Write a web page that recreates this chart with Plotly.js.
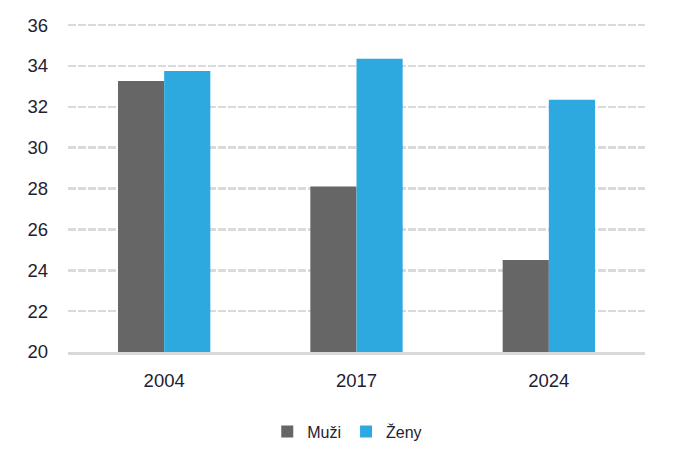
<!DOCTYPE html>
<html><head><meta charset="utf-8">
<script src="https://cdn.plot.ly/plotly-3.0.1.min.js"></script>
<style>body{margin:0;background:#fff}#c{width:675px;height:472px}</style>
</head><body><div id="c"></div>
<script>
const years = ['2004', '2017', '2024'];
const muzi = [33.26, 28.1, 24.5];
const zeny = [33.75, 34.35, 32.35];
const seriesNames = ['Muži', 'Ženy'];
const yTicks = [20, 22, 24, 26, 28, 30, 32, 34, 36];

const data = [
  {type: 'bar', x: years, y: muzi, name: seriesNames[0], marker: {color: '#666666'}},
  {type: 'bar', x: years, y: zeny, name: seriesNames[1], marker: {color: '#2EA9E0'}}
];
const layout = {
  width: 675, height: 472,
  margin: {l: 68, r: 30, t: 22, b: 120},
  paper_bgcolor: '#fff', plot_bgcolor: '#fff',
  font: {family: '"Liberation Sans", Arial, sans-serif', color: '#1e2230', size: 18},
  barmode: 'group', bargap: 0.52, bargroupgap: 0,
  xaxis: {type: 'category', showgrid: false, showline: true, linecolor: '#d9d9d9', linewidth: 3,
          ticks: '', tickfont: {size: 18.5}, zeroline: false, ticklabelstandoff: 10},
  yaxis: {range: [20, 36.15], tickvals: yTicks, showgrid: true, gridcolor: '#dadada', griddash: '8px,2px',
          gridwidth: 2.5, zeroline: false, showline: false, ticks: '', tickfont: {size: 18.5}, ticklabelstandoff: 19},
  legend: {orientation: 'h', x: 0.484, xanchor: 'center', y: -0.19, yanchor: 'top', font: {size: 16},
           itemwidth: 30, traceorder: 'normal'},
  showlegend: true
};
Plotly.newPlot('c', data, layout, {displayModeBar: false, staticPlot: true});
</script></body></html>
